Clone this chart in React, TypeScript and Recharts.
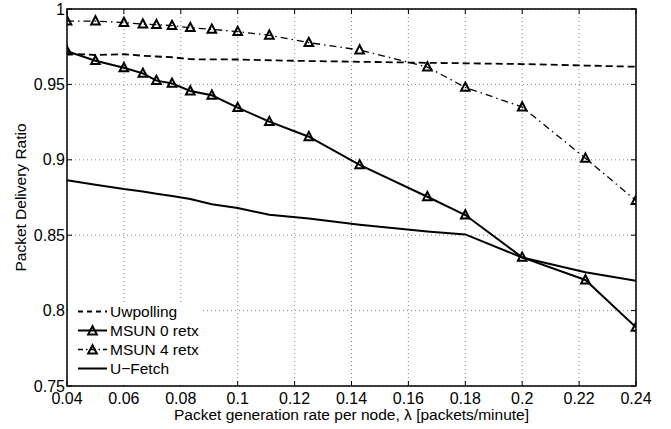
import { LineChart, Line, XAxis, YAxis, CartesianGrid, Legend, ReferenceArea } from 'recharts';

// packet generation rate per node (packets/minute)
const rates = [0.04, 0.05, 0.06, 1 / 15, 1 / 14, 1 / 13, 1 / 12, 1 / 11, 0.1, 1 / 9, 1 / 8, 1 / 7, 1 / 6, 0.18, 0.2, 2 / 9, 0.24];

// packet delivery ratio per protocol
const uwpolling = [0.9705, 0.9695, 0.970, 0.969, 0.9685, 0.968, 0.9667, 0.9666, 0.9665, 0.966, 0.9655, 0.965, 0.9643, 0.964, 0.9635, 0.9625, 0.9617];
const msun0 = [0.972, 0.9657, 0.961, 0.9573, 0.9525, 0.9507, 0.9456, 0.9428, 0.9346, 0.9253, 0.9153, 0.8966, 0.8755, 0.8634, 0.8353, 0.8203, 0.7889];
const msun4 = [0.992, 0.992, 0.991, 0.990, 0.9896, 0.989, 0.9876, 0.9865, 0.985, 0.9826, 0.9777, 0.9728, 0.9615, 0.948, 0.935, 0.901, 0.873];
const uFetch = [0.8864, 0.8835, 0.8806, 0.879, 0.8775, 0.876, 0.874, 0.8705, 0.868, 0.8635, 0.861, 0.857, 0.8525, 0.8505, 0.8352, 0.8255, 0.8198];

const xTicks = [0.04, 0.06, 0.08, 0.1, 0.12, 0.14, 0.16, 0.18, 0.2, 0.22, 0.24];
const yTicks = [0.75, 0.8, 0.85, 0.9, 0.95, 1];

const data = rates.map((x, i) => ({
  x,
  uwpolling: uwpolling[i],
  msun0: msun0[i],
  msun4: msun4[i],
  uFetch: uFetch[i],
}));

const W = 671;
const H = 429;
const M = { top: 9, right: 35, left: 0, bottom: 0 };
const Y_AXIS_W = 67;
const X_AXIS_H = 43;
const PLOT_LEFT = M.left + Y_AXIS_W;
const PLOT_RIGHT = W - M.right;
const PLOT_TOP = M.top;
const PLOT_BOTTOM = H - M.bottom - X_AXIS_H;
const FONT = '"Liberation Sans", Arial, Helvetica, sans-serif';
const TICK_LEN = 5;

const Triangle = (props: any) => {
  const { cx, cy } = props;
  if (cx == null || cy == null) return null;
  return (
    <path
      d={`M${cx},${cy - 4.8} L${cx - 4.3},${cy + 3.4} L${cx + 4.3},${cy + 3.4} Z`}
      fill="none"
      stroke="#000"
      strokeWidth={2}
      strokeLinejoin="miter"
    />
  );
};

// MATLAB-style ticks: inward, on all four sides
const XTick = (props: any) => {
  const { x, y, payload } = props;
  return (
    <g>
      <line x1={x} x2={x} y1={PLOT_BOTTOM} y2={PLOT_BOTTOM - TICK_LEN} stroke="#000" />
      <line x1={x} x2={x} y1={PLOT_TOP} y2={PLOT_TOP + TICK_LEN} stroke="#000" />
      <text x={x} y={y} dy={11.5} textAnchor="middle" fontSize={16} fontFamily={FONT} fill="#000">
        {payload.value}
      </text>
    </g>
  );
};

const YTick = (props: any) => {
  const { x, y, payload } = props;
  return (
    <g>
      <line x1={PLOT_LEFT} x2={PLOT_LEFT + TICK_LEN} y1={y} y2={y} stroke="#000" />
      <line x1={PLOT_RIGHT} x2={PLOT_RIGHT - TICK_LEN} y1={y} y2={y} stroke="#000" />
      <text x={x} y={y} dy={5.5} textAnchor="end" fontSize={16} fontFamily={FONT} fill="#000">
        {payload.value}
      </text>
    </g>
  );
};

const legendItems = [
  { name: 'Uwpolling', dash: '5 4', marker: false, width: 1.8 },
  { name: 'MSUN 0 retx', dash: undefined, marker: true, width: 2 },
  { name: 'MSUN 4 retx', dash: '5 3 1.5 3', marker: true, width: 1.3 },
  { name: 'U\u2212Fetch', dash: undefined, marker: false, width: 2 },
];

const LegendContent = () => (
  <div style={{ fontFamily: FONT, fontSize: 15.5, color: '#000' }}>
    {legendItems.map((item) => (
      <div key={item.name} style={{ display: 'flex', alignItems: 'center', height: 19 }}>
        <svg width={31} height={19} style={{ marginLeft: 9 }}>
          <line x1={1} x2={30} y1={9.5} y2={9.5} stroke="#000" strokeWidth={item.width} strokeDasharray={item.dash} />
          {item.marker && <Triangle cx={15.5} cy={10} />}
        </svg>
        <span style={{ marginLeft: 2, lineHeight: '19px' }}>{item.name}</span>
      </div>
    ))}
  </div>
);

export default function App() {
  return (
    <div style={{ position: 'absolute', left: 0, top: 0, width: W, height: H, background: '#fff' }}>
      <LineChart width={W} height={H} data={data} margin={M}>
        <CartesianGrid stroke="#888" strokeDasharray="1 3" strokeWidth={1} />
        <XAxis
          dataKey="x"
          type="number"
          domain={[0.04, 0.24]}
          ticks={xTicks}
          allowDataOverflow
          height={X_AXIS_H}
          tickSize={0}
          tickMargin={6}
          tick={<XTick />}
          axisLine={false}
          label={{
            value: 'Packet generation rate per node, \u03bb [packets/minute]',
            position: 'insideBottom',
            offset: 9,
            style: { fontSize: 15.5, fontFamily: FONT, fill: '#000' },
          }}
        />
        <YAxis
          type="number"
          domain={[0.75, 1]}
          ticks={yTicks}
          allowDataOverflow
          width={Y_AXIS_W}
          tickSize={0}
          tickMargin={2}
          tick={<YTick />}
          axisLine={false}
          label={{
            value: 'Packet Delivery Ratio',
            angle: -90,
            position: 'insideLeft',
            offset: 20,
            style: { fontSize: 15.5, fontFamily: FONT, fill: '#000', textAnchor: 'middle' },
          }}
        />
        <ReferenceArea x1={0.04} x2={0.24} y1={0.75} y2={1} fill="none" stroke="#000" strokeWidth={1.5} ifOverflow="visible" />
        <Legend
          layout="horizontal"
          verticalAlign="middle"
          align="center"
          content={<LegendContent />}
          wrapperStyle={{ left: PLOT_LEFT + 1, top: 302, width: 132, height: 83, background: '#fff' }}
        />
        <Line dataKey="uwpolling" name="Uwpolling" stroke="#000" strokeWidth={1.8} strokeDasharray="7 4" dot={false} isAnimationActive={false} />
        <Line dataKey="msun0" name="MSUN 0 retx" stroke="#000" strokeWidth={2} dot={<Triangle />} isAnimationActive={false} />
        <Line dataKey="msun4" name="MSUN 4 retx" stroke="#000" strokeWidth={1.3} strokeDasharray="7 4 1.5 4" dot={<Triangle />} isAnimationActive={false} />
        <Line dataKey="uFetch" name="U-Fetch" stroke="#000" strokeWidth={2} dot={false} isAnimationActive={false} />
      </LineChart>
    </div>
  );
}
